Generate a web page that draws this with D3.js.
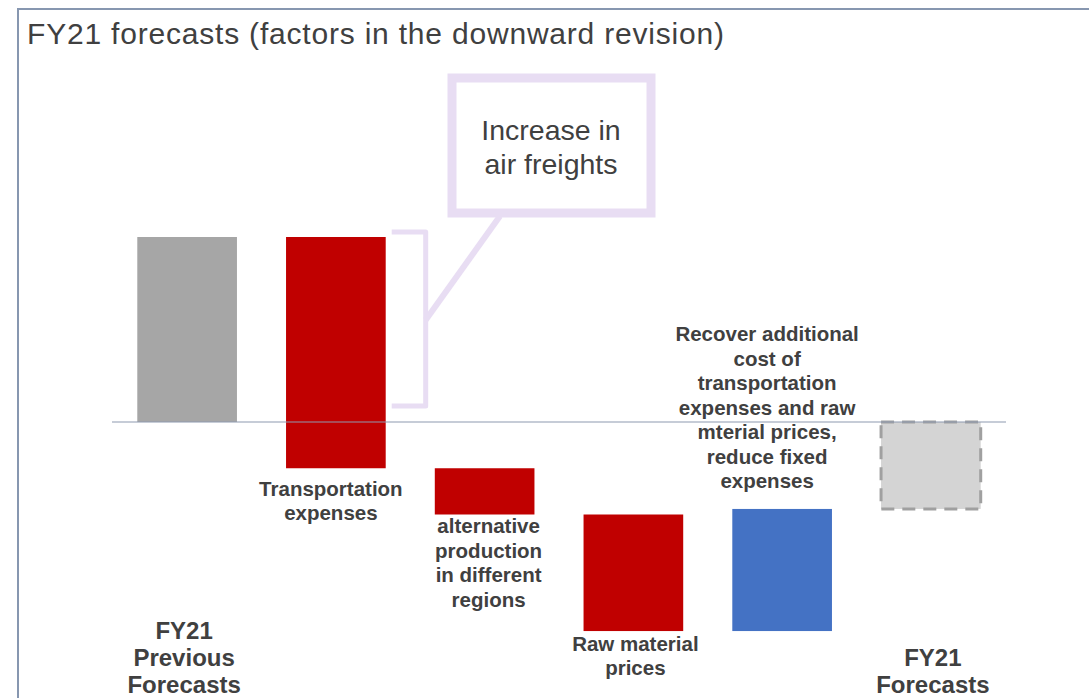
<!DOCTYPE html>
<html>
<head>
<meta charset="utf-8">
<script src="https://cdn.jsdelivr.net/npm/d3@7"></script>
<style>
  body { margin: 0; background: #fff; }
  text { font-family: "Liberation Sans", Arial, sans-serif; }
</style>
</head>
<body>
<script>
// data
const categories = ["prev", "transport", "altProd", "rawMat", "recover", "final"];
const deltas = [100, -125, -25, -63, 66, null]; // null = total
const barKinds = ["total", "down", "down", "down", "up", "forecast"];

const labelLines = [
    ["FY21", "Previous", "Forecasts"],
    ["Transportation", "expenses"],
    ["alternative", "production", "in different", "regions"],
    ["Raw material", "prices"],
    ["Recover additional", "cost of", "transportation", "expenses and raw", "mterial prices,", "reduce fixed", "expenses"],
    ["FY21", "Forecasts"]
];
const titleText = "FY21 forecasts (factors in the downward revision)";
const calloutLines = ["Increase in", "air freights"];

// layout
const W = 1089, H = 698;
const colors = {total: "#a6a6a6", down: "#c00000", up: "#4472c4", forecast: "#d4d4d4"};
// text placement: first baseline, line height, size, horizontal nudge
const labelLayout = [
    {y: 639, lh: 27, size: 24, dx: -3},
    {y: 496, lh: 24, size: 20.5, dx: -5},
    {y: 533, lh: 24.5, size: 20.5, dx: 4},
    {y: 651, lh: 24, size: 20.5, dx: 2},
    {y: 341, lh: 24.5, size: 20.5, dx: -15},
    {y: 666, lh: 27, size: 24, dx: 2}
];

// running totals for the waterfall
let running = 0;
const bars = categories.map(function (c, i) {
    let start, end;
    if (deltas[i] === null) {
        start = 0; end = running;
    } else if (barKinds[i] === "total") {
        start = 0; end = deltas[i]; running = end;
    } else {
        start = running; end = running + deltas[i]; running = end;
    }
    return {cat: c, kind: barKinds[i], start: start, end: end, lines: labelLines[i], lay: labelLayout[i]};
});

const svg = d3.select("body").append("svg")
    .attr("width", W)
    .attr("height", H);

// frame
svg.append("rect")
    .attr("x", 18).attr("y", 9)
    .attr("width", W + 20).attr("height", H + 20)
    .attr("fill", "none")
    .attr("stroke", "#8797b0")
    .attr("stroke-width", 2);

svg.append("text")
    .attr("x", 27).attr("y", 44)
    .attr("fill", "#404040")
    .style("font-size", "30px")
    .style("letter-spacing", "0.8px")
    .text(titleText);

const x = d3.scaleBand()
    .domain(categories)
    .range([112, 1006])
    .paddingInner(0.33)
    .paddingOuter(0.17);

const y = d3.scaleLinear()
    .domain([0, 100])
    .range([422, 237]);

// bars
svg.selectAll(".bar")
    .data(bars)
    .enter().append("rect")
    .attr("class", "bar")
    .attr("x", d => x(d.cat))
    .attr("width", x.bandwidth())
    .attr("y", d => y(Math.max(d.start, d.end)))
    .attr("height", d => Math.abs(y(d.start) - y(d.end)))
    .attr("fill", d => colors[d.kind])
    .attr("stroke", d => d.kind === "forecast" ? "#a0a0a0" : "none")
    .attr("stroke-width", 3)
    .attr("stroke-dasharray", d => d.kind === "forecast" ? "13,8" : null)
    .attr("stroke-linejoin", "round");

// zero line
svg.append("line")
    .attr("x1", x.range()[0]).attr("x2", x.range()[1])
    .attr("y1", y(0)).attr("y2", y(0))
    .attr("stroke", "#8e9ab0")
    .attr("stroke-width", 1.2);

// category labels
const lbl = svg.selectAll(".lbl")
    .data(bars)
    .enter().append("text")
    .attr("class", "lbl")
    .attr("text-anchor", "middle")
    .attr("fill", "#404040")
    .style("font-weight", "bold")
    .style("font-size", d => d.lay.size + "px");

lbl.selectAll("tspan")
    .data(d => d.lines.map((l, i) => ({l: l, i: i, d: d})))
    .enter().append("tspan")
    .attr("x", t => x(t.d.cat) + x.bandwidth() / 2 + t.d.lay.dx)
    .attr("y", t => t.d.lay.y + t.i * t.d.lay.lh)
    .text(t => t.l);

// callout
const callColor = "#e8ddf3";
const bx = x("transport") + x.bandwidth() + 6;
svg.append("path")
    .attr("d", "M" + bx + "," + (y(0) - 190) + " H" + (bx + 34) + " V" + (y(0) - 16) + " H" + bx)
    .attr("fill", "none")
    .attr("stroke", callColor)
    .attr("stroke-width", 5)
    .attr("stroke-linejoin", "round");

svg.append("line")
    .attr("x1", bx + 34).attr("y1", y(0) - 102)
    .attr("x2", 500).attr("y2", 216)
    .attr("stroke", callColor)
    .attr("stroke-width", 6);

svg.append("rect")
    .attr("x", 452).attr("y", 78)
    .attr("width", 199).attr("height", 135)
    .attr("fill", "#fff")
    .attr("stroke", callColor)
    .attr("stroke-width", 9);

svg.append("text")
    .attr("text-anchor", "middle")
    .attr("fill", "#404040")
    .style("font-size", "28.5px")
    .selectAll("tspan")
    .data(calloutLines)
    .enter().append("tspan")
    .attr("x", 551)
    .attr("y", (d, i) => 140 + i * 34)
    .text(d => d);
</script>
</body>
</html>
